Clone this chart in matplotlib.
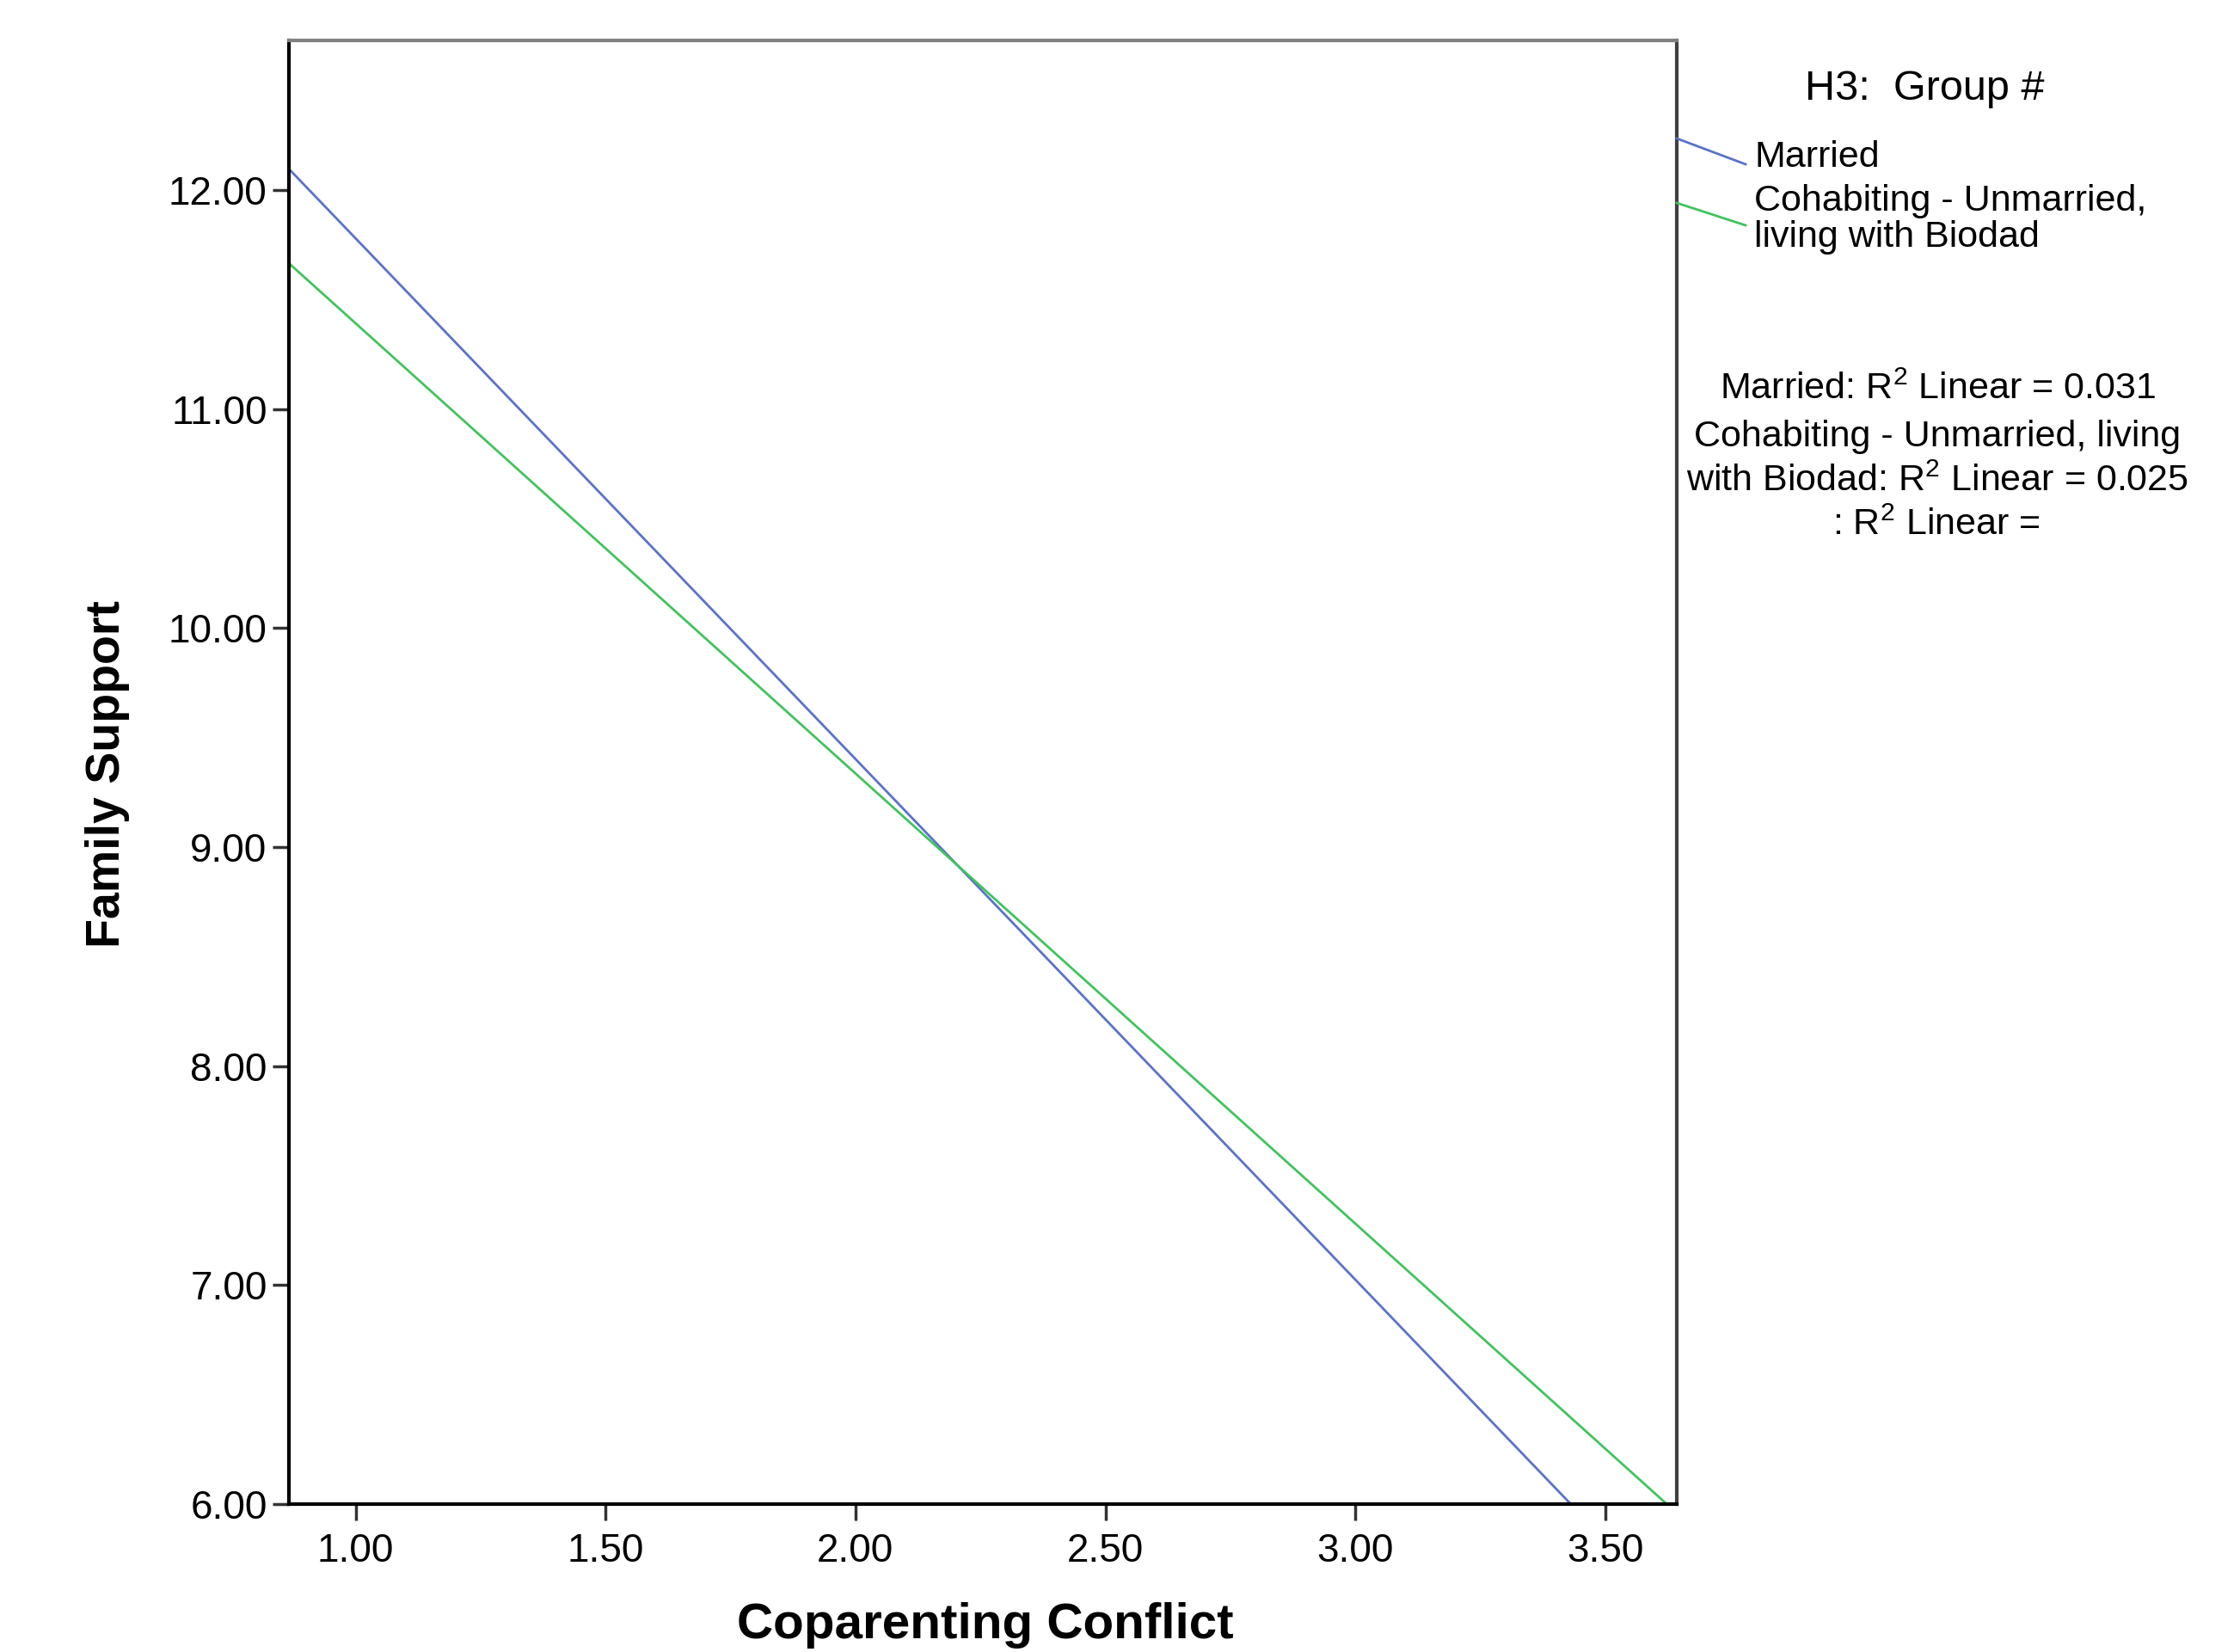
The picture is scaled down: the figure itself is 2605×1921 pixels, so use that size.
import numpy as np
import matplotlib
matplotlib.use("Agg")
import matplotlib.pyplot as plt
from matplotlib.lines import Line2D

plt.rcParams['font.family'] = ['Liberation Sans', 'DejaVu Sans']
plt.rcParams['mathtext.fontset'] = 'custom'
plt.rcParams['mathtext.rm'] = 'Liberation Sans'

# fit lines: where each line enters and leaves the frame
groups = ['Married', 'Cohabiting - Unmarried,\nliving with Biodad']
x_ends = [[0.866, 3.431], [0.866, 3.623]]
y_ends = [[12.098, 6.0], [11.667, 6.0]]
r2_values = ['0.031', '0.025']
colors = ['#5a72c8', '#3fc45c']

xticks = [1.0, 1.5, 2.0, 2.5, 3.0, 3.5]
yticks = [6.0, 7.0, 8.0, 9.0, 10.0, 11.0, 12.0]

W, H = 2605, 1921
fig = plt.figure(figsize=(W / 100, H / 100), dpi=100)
ax = fig.add_axes([335.6 / W, 1 - 1749 / H, (1950 - 335.6) / W, (1749 - 46.5) / H])

for xs, ys, c in zip(x_ends, y_ends, colors):
    ax.plot(xs, ys, color=c, lw=2.0, solid_capstyle='butt')

ax.set_xlim(0.866, 3.643)
ax.set_ylim(6.0, 12.685)
ax.set_xticks(xticks)
ax.set_yticks(yticks)
ax.set_xticklabels(['%.2f' % v for v in xticks])
ax.set_yticklabels(['%.2f' % v for v in yticks])
ax.tick_params(axis='both', direction='out', length=14, width=2.5, color='#333333',
               labelsize=33)
ax.tick_params(axis='x', pad=10)
ax.tick_params(axis='y', pad=4)

for side in ['left', 'bottom']:
    ax.spines[side].set_color('black')
    ax.spines[side].set_linewidth(3)
ax.spines['top'].set_color('#808080')
ax.spines['top'].set_linewidth(3)
ax.spines['right'].set_color('#404040')
ax.spines['right'].set_linewidth(3)

fig.text(125 / W, 1 - 900 / H, 'Family Support', rotation=90, ha='center', va='center',
         fontsize=40, fontweight='bold')
# reference crops this label at the bottom edge; keep it just inside
fig.text(1146 / W, 1 - 1905 / H, 'Coparenting Conflict', ha='center', va='baseline',
         fontsize=42, fontweight='bold')

# legend drawn the SPSS way, outside the frame
fig.text(2238 / W, 1 - 103 / H, 'H3:  Group #', ha='center', va='center', fontsize=35)
leg_y = [(161, 191), (236, 262)]
for (y0, y1), c in zip(leg_y, colors):
    fig.add_artist(Line2D([1950 / W, 2030 / W], [1 - y0 / H, 1 - y1 / H], color=c, lw=2.0,
                          transform=fig.transFigure))
fig.text(2040 / W, 1 - 183 / H, groups[0], ha='left', va='center', fontsize=31)
fig.text(2040 / W, 1 - 255 / H, groups[1], ha='left', va='center', fontsize=31,
         linespacing=1.05)

r2_lines = ['Married: R$^2$ Linear = ' + r2_values[0],
            'Cohabiting - Unmarried, living',
            'with Biodad: R$^2$ Linear = ' + r2_values[1],
            ': R$^2$ Linear = ']
r2_y = [453, 508, 560, 611]
for t, y in zip(r2_lines, r2_y):
    fig.text(2253 / W, 1 - y / H, t, ha='center', va='center', fontsize=31)

fig.savefig('out.png', dpi=100)
